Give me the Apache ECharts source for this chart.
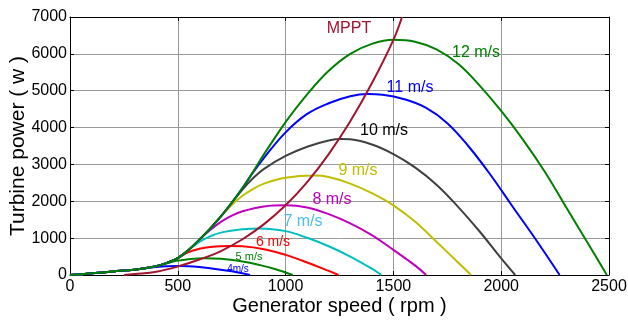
<!DOCTYPE html>
<html>
<head>
<meta charset="utf-8">
<script src="https://cdn.jsdelivr.net/npm/echarts@6/dist/echarts.min.js"></script>
<style>
  html, body { margin: 0; padding: 0; background: #fff; }
  #chart { width: 628px; height: 320px; }
</style>
</head>
<body>
<div id="chart"></div>
<script>
// [rpm, power(w)]
const wind4 = [[0,0],[100,45],[200,95],[300,145],[350,180],[400,215],[450,235],[500,242],[550,238],[600,215],[700,140],[780,70],[835,0]];
const wind5 = [[0,0],[100,45],[200,95],[300,145],[350,185],[400,240],[450,320],[500,390],[550,430],[620,455],[700,440],[800,365],[880,270],[950,165],[1033,0]];
const wind6 = [[0,0],[100,45],[200,95],[300,145],[350,185],[400,240],[450,330],[500,460],[550,620],[600,710],[650,760],[740,790],[800,780],[900,700],[1000,545],[1100,340],[1200,110],[1245,0]];
const wind7 = [[0,0],[100,45],[200,95],[300,145],[350,185],[400,240],[450,330],[500,460],[550,680],[600,900],[650,1050],[700,1150],[800,1240],[880,1265],[1000,1190],[1100,1010],[1200,780],[1300,500],[1400,170],[1444,0]];
const wind8 = [[0,0],[100,45],[200,95],[300,145],[350,185],[400,240],[450,330],[500,460],[550,680],[600,960],[650,1220],[700,1440],[750,1610],[800,1730],[900,1860],[1000,1890],[1100,1830],[1200,1650],[1300,1400],[1400,1080],[1500,680],[1600,260],[1652,0]];
const wind9 = [[0,0],[100,45],[200,95],[300,145],[350,185],[400,240],[450,330],[500,460],[550,680],[600,960],[650,1260],[700,1590],[750,1900],[800,2150],[850,2340],[900,2480],[1000,2640],[1130,2700],[1200,2660],[1300,2480],[1400,2220],[1500,1890],[1600,1450],[1700,900],[1800,340],[1860,0]];
const wind10 = [[0,0],[100,45],[200,95],[300,145],[350,185],[400,240],[450,330],[500,460],[550,680],[600,960],[650,1260],[700,1590],[750,1960],[800,2320],[850,2630],[900,2880],[1000,3230],[1100,3480],[1200,3650],[1260,3690],[1300,3680],[1400,3540],[1500,3280],[1600,2920],[1700,2450],[1800,1850],[1900,1180],[2000,450],[2065,0]];
const wind11 = [[0,0],[100,45],[200,95],[300,145],[350,185],[400,240],[450,330],[500,460],[550,680],[600,960],[650,1260],[700,1590],[750,1960],[800,2360],[850,2790],[900,3180],[1000,3870],[1100,4370],[1200,4660],[1300,4850],[1380,4910],[1450,4890],[1550,4770],[1650,4540],[1750,4120],[1850,3480],[1950,2720],[2050,1880],[2150,1050],[2271,0]];
const wind12 = [[0,0],[100,45],[200,95],[300,145],[350,185],[400,240],[450,330],[500,460],[550,680],[600,960],[650,1260],[700,1590],[750,1960],[800,2360],[850,2810],[900,3280],[950,3720],[1000,4150],[1100,4900],[1200,5540],[1300,6000],[1400,6270],[1500,6380],[1600,6330],[1700,6120],[1800,5730],[1900,5140],[2000,4450],[2100,3680],[2200,2820],[2300,1850],[2400,880],[2490,0]];
const mppt = [[250,0],[300,25],[400,90],[500,230],[600,420],[700,650],[800,970],[900,1380],[1000,1890],[1100,2520],[1200,3280],[1300,4170],[1400,5200],[1500,6380],[1540,7000]];

const curveNames = ['4m/s','5 m/s','6 m/s','7 m/s','8 m/s','9 m/s','10 m/s','11 m/s','12 m/s','MPPT'];
const curveData = [wind4, wind5, wind6, wind7, wind8, wind9, wind10, wind11, wind12, mppt];
const curveColors = ['#0000ff','#008000','#ff0000','#00bfbf','#bf00bf','#bfbf00','#404040','#0000ff','#008000','#a2142f'];

// curve labels: text, centre x, centre y, size, colour
const labels = [
  ['MPPT', 349, 29, 16, '#a2142f'],
  ['12 m/s', 476, 53, 16, '#008000'],
  ['11 m/s', 410, 88, 16, '#0000ff'],
  ['10 m/s', 384, 131, 16, '#000000'],
  ['9 m/s', 358, 171, 16, '#bfbf00'],
  ['8 m/s', 332, 200, 16, '#bf00bf'],
  ['7 m/s', 303, 222, 16, '#4dbeee'],
  ['6 m/s', 273, 242, 14, '#ff0000'],
  ['5 m/s', 249, 257, 11, '#008000'],
  ['4m/s', 238, 269, 10, '#0000ff']
];

const font = '"Liberation Sans", Arial, sans-serif';

let chart = echarts.init(document.getElementById('chart'), null, { renderer: 'canvas' });

let series = curveData.map((d, i) => ({
  name: curveNames[i],
  type: 'line',
  data: d,
  smooth: 0.4,
  showSymbol: false,
  silent: true,
  lineStyle: { color: curveColors[i], width: 2 },
  z: 2 + i
}));

let option = {
  animation: false,
  backgroundColor: '#fff',
  grid: { left: 70, right: 19, top: 17, bottom: 45, outerBoundsMode: 'none' },
  xAxis: [
    {
      type: 'value', min: 0, max: 2500, interval: 500,
      name: 'Generator speed ( rpm )', nameLocation: 'middle', nameGap: 21, nameMoveOverlap: false,
      nameTextStyle: { color: '#000', fontSize: 20, fontFamily: font },
      axisLine: { show: true, lineStyle: { color: '#000', width: 1 } },
      axisTick: { inside: true, length: 4, lineStyle: { color: '#000' } },
      axisLabel: { color: '#000', fontSize: 16, fontFamily: font, margin: 4, formatter: v => String(v) },
      splitLine: { show: true, lineStyle: { color: '#999', width: 1 } }
    },
    {
      type: 'value', min: 0, max: 2500, interval: 500, position: 'top',
      axisLine: { show: true, onZero: false, lineStyle: { color: '#000', width: 1 } },
      axisTick: { inside: true, length: 4, lineStyle: { color: '#000' } },
      axisLabel: { show: false },
      splitLine: { show: false }
    }
  ],
  yAxis: [
    {
      type: 'value', min: 0, max: 7000, interval: 1000,
      name: 'Turbine power ( w )', nameLocation: 'middle', nameGap: 41, nameMoveOverlap: false,
      nameTextStyle: { color: '#000', fontSize: 21, fontFamily: font },
      axisLine: { show: true, lineStyle: { color: '#000', width: 1 } },
      axisTick: { inside: true, length: 4, lineStyle: { color: '#000' } },
      axisLabel: { color: '#000', fontSize: 16, fontFamily: font, margin: 3, formatter: v => String(v) },
      splitLine: { show: true, lineStyle: { color: '#999', width: 1 } }
    },
    {
      type: 'value', min: 0, max: 7000, interval: 1000, position: 'right',
      axisLine: { show: true, onZero: false, lineStyle: { color: '#000', width: 1 } },
      axisTick: { inside: true, length: 4, lineStyle: { color: '#000' } },
      axisLabel: { show: false },
      splitLine: { show: false }
    }
  ],
  graphic: labels.map(l => ({
    type: 'text',
    x: l[1], y: l[2], z: 100,
    style: {
      text: l[0], fill: l[4],
      font: l[3] + 'px ' + font,
      align: 'center', verticalAlign: 'middle'
    }
  })),
  series: series
};

chart.setOption(option);
</script>
</body>
</html>
